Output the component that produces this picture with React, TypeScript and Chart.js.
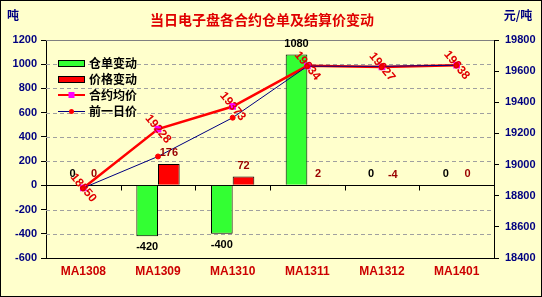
import { useEffect, useRef } from 'react';
import { Chart, registerables } from 'chart.js';

Chart.register(...registerables);

const categories = ['MA1308', 'MA1309', 'MA1310', 'MA1311', 'MA1312', 'MA1401'];
const warrantChange = [0, -420, -400, 1080, 0, 0];
const priceChange = [0, 176, 72, 2, -4, 0];
const avgPrice = [18850, 19228, 19373, 19634, 19627, 19638];
const prevPrice = [18850, 19052, 19301, 19632, 19631, 19638];
const leftMin = -600;
const leftMax = 1200;
const rightMin = 18400;
const rightMax = 19800;
const tickStep = 200;

const TITLE = '当日电子盘各合约仓单及结算价变动';
const LEFT_UNIT = '吨';
const RIGHT_UNIT = '元/吨';
const LEGEND_LABELS = ['仓单变动', '价格变动', '合约均价', '前一日价'];

const CJK = '"Noto Sans CJK SC", sans-serif';
const NUM = '"Liberation Sans", Arial, sans-serif';
const BG = '#FFFFCC';
const GREEN = '#33FF33';
const RED = '#FF0000';
const NAVY = '#000080';

const decor = {
  id: 'decor',
  beforeDraw(chart: any) {
    const ctx = chart.ctx;
    ctx.save();
    ctx.fillStyle = BG;
    ctx.fillRect(0, 0, chart.width, chart.height);
    ctx.restore();
  },
  beforeDatasetsDraw(chart: any) {
    const ctx = chart.ctx;
    const { left, right, top } = chart.chartArea;
    const ys = chart.scales.y;
    ctx.save();
    ctx.lineWidth = 1;
    // dashed grid
    ctx.strokeStyle = '#A0A0A0';
    ctx.setLineDash([4, 3]);
    ctx.beginPath();
    ys.ticks.forEach((t: any) => {
      if (t.value === 0 || t.value === leftMin || t.value === leftMax) return;
      const py = Math.round(ys.getPixelForValue(t.value)) + 0.5;
      ctx.moveTo(left, py);
      ctx.lineTo(right, py);
    });
    ctx.stroke();
    ctx.setLineDash([]);
    ctx.strokeStyle = '#808080';
    ctx.beginPath();
    ctx.moveTo(left, Math.round(top) + 0.5);
    ctx.lineTo(right, Math.round(top) + 0.5);
    ctx.stroke();
    const y0 = Math.round(ys.getPixelForValue(0)) + 0.5;
    ctx.strokeStyle = '#000';
    ctx.beginPath();
    ctx.moveTo(left, y0);
    ctx.lineTo(right, y0);
    const xs = chart.scales.x;
    for (let i = 0; i < categories.length - 1; i++) {
      const bx = Math.round((xs.getPixelForValue(i) + xs.getPixelForValue(i + 1)) / 2) + 0.5;
      ctx.moveTo(bx, y0);
      ctx.lineTo(bx, y0 + 5);
    }
    ctx.stroke();
    ctx.restore();
  },
  afterDatasetsDraw(chart: any) {
    const ctx = chart.ctx;
    ctx.save();
    ctx.textAlign = 'center';
    ctx.textBaseline = 'middle';
    ctx.font = `bold 11px ${NUM}`;
    const barSets = [
      { idx: 0, data: warrantChange, color: '#000000' },
      { idx: 1, data: priceChange, color: '#990000' },
    ];
    barSets.forEach(({ idx, data, color }) => {
      const meta = chart.getDatasetMeta(idx);
      ctx.fillStyle = color;
      meta.data.forEach((el: any, i: number) => {
        const v = data[i];
        const h = Math.abs(el.base - el.y);
        const below = v < 0 && h > 10;
        ctx.fillText(String(v), el.x, below ? el.y + 11 : el.y - 11);
      });
    });
    const lineMeta = chart.getDatasetMeta(2);
    ctx.fillStyle = '#E00000';
    ctx.font = `bold 12px ${NUM}`;
    lineMeta.data.forEach((el: any, i: number) => {
      ctx.save();
      ctx.translate(el.x, el.y);
      ctx.rotate((50 * Math.PI) / 180);
      ctx.fillText(String(avgPrice[i]), 0, 0);
      ctx.restore();
    });
    ctx.restore();
  },
  afterDraw(chart: any) {
    const ctx = chart.ctx;
    ctx.save();
    ctx.textBaseline = 'middle';
    ctx.textAlign = 'center';
    ctx.fillStyle = '#E00000';
    ctx.font = `bold 14px ${CJK}`;
    ctx.fillText(TITLE, 262, 20);
    ctx.fillStyle = NAVY;
    ctx.font = `bold 12px ${CJK}`;
    ctx.fillText(LEFT_UNIT, 13, 15);
    ctx.fillText(RIGHT_UNIT, 518, 15);

    // legend
    const rows = [63, 79, 95, 111];
    const lx = 58;
    const lw = 27;
    ctx.lineWidth = 1;
    [GREEN, RED].forEach((c, i) => {
      ctx.fillStyle = c;
      ctx.fillRect(lx, rows[i] - 3, lw, 7);
      ctx.strokeStyle = '#000';
      ctx.strokeRect(lx + 0.5, rows[i] - 3 + 0.5, lw - 1, 6);
    });
    ctx.strokeStyle = RED;
    ctx.lineWidth = 2;
    ctx.beginPath();
    ctx.moveTo(lx, rows[2]);
    ctx.lineTo(lx + lw, rows[2]);
    ctx.stroke();
    ctx.fillStyle = '#FF00FF';
    ctx.fillRect(lx + lw / 2 - 3, rows[2] - 3, 6, 6);
    ctx.strokeStyle = NAVY;
    ctx.lineWidth = 1;
    ctx.beginPath();
    ctx.moveTo(lx, rows[3] + 0.5);
    ctx.lineTo(lx + lw, rows[3] + 0.5);
    ctx.stroke();
    ctx.fillStyle = RED;
    ctx.beginPath();
    ctx.arc(lx + lw / 2, rows[3] + 0.5, 2.5, 0, Math.PI * 2);
    ctx.fill();

    ctx.fillStyle = '#000';
    ctx.textAlign = 'left';
    ctx.font = `bold 12px ${CJK}`;
    LEGEND_LABELS.forEach((t, i) => ctx.fillText(t, lx + lw + 4, rows[i]));

    ctx.strokeStyle = '#000';
    ctx.lineWidth = 1;
    ctx.strokeRect(0.5, 0.5, chart.width - 1, chart.height - 1);
    ctx.restore();
  },
};

export default function App() {
  const ref = useRef<HTMLCanvasElement>(null);
  useEffect(() => {
    document.body.style.margin = '0';
    const tickFont = { family: NUM, size: 11, weight: 'bold' as const };
    const plain = (v: any) => String(v);
    const chart = new Chart(ref.current!, {
      type: 'bar',
      data: {
        labels: categories,
        datasets: [
          {
            type: 'bar',
            label: LEGEND_LABELS[0],
            data: warrantChange,
            backgroundColor: GREEN,
            borderColor: '#000',
            borderWidth: 1,
            yAxisID: 'y',
            order: 2,
          },
          {
            type: 'bar',
            label: LEGEND_LABELS[1],
            data: priceChange,
            backgroundColor: RED,
            borderColor: '#000',
            borderWidth: 1,
            yAxisID: 'y',
            order: 3,
          },
          {
            type: 'line',
            label: LEGEND_LABELS[2],
            data: avgPrice,
            borderColor: RED,
            borderWidth: 2.5,
            pointStyle: 'rect',
            pointRadius: 3,
            pointBackgroundColor: '#FF00FF',
            pointBorderColor: '#FF00FF',
            yAxisID: 'y1',
            order: 1,
          },
          {
            type: 'line',
            label: LEGEND_LABELS[3],
            data: prevPrice,
            borderColor: NAVY,
            borderWidth: 1,
            pointStyle: 'circle',
            pointRadius: 2.5,
            pointBackgroundColor: RED,
            pointBorderColor: RED,
            yAxisID: 'y1',
            order: 0,
          },
        ],
      },
      options: {
        responsive: false,
        animation: false,
        layout: { padding: { top: 40, left: 0, right: 0, bottom: 0 } },
        plugins: {
          legend: { display: false },
          tooltip: { enabled: false },
          title: { display: false },
        },
        datasets: {
          bar: { categoryPercentage: 0.58, barPercentage: 1 },
        },
        scales: {
          x: {
            type: 'category',
            offset: true,
            grid: { display: false, drawTicks: false },
            border: { display: true, color: '#000' },
            ticks: {
              color: '#CC0000',
              font: { family: NUM, size: 12, weight: 'bold' },
              padding: 6,
              maxRotation: 0,
              autoSkip: false,
            },
            afterFit(s: any) {
              s.height = 39;
            },
          },
          y: {
            position: 'left',
            min: leftMin,
            max: leftMax,
            ticks: { stepSize: tickStep, color: NAVY, font: tickFont, padding: 4, callback: plain },
            grid: { drawOnChartArea: false, tickLength: 5, tickColor: '#000' },
            border: { display: true, color: '#000' },
            afterFit(s: any) {
              s.width = 46;
            },
          },
          y1: {
            position: 'right',
            min: rightMin,
            max: rightMax,
            ticks: { stepSize: tickStep, color: NAVY, font: tickFont, padding: 6, callback: plain },
            grid: { drawOnChartArea: false, tickLength: 5, tickColor: '#000' },
            border: { display: true, color: '#000' },
            afterFit(s: any) {
              s.width = 48;
            },
          },
        },
      } as any,
      plugins: [decor],
    });
    return () => chart.destroy();
  }, []);
  return <canvas ref={ref} width={542} height={297} style={{ display: 'block' }} />;
}
